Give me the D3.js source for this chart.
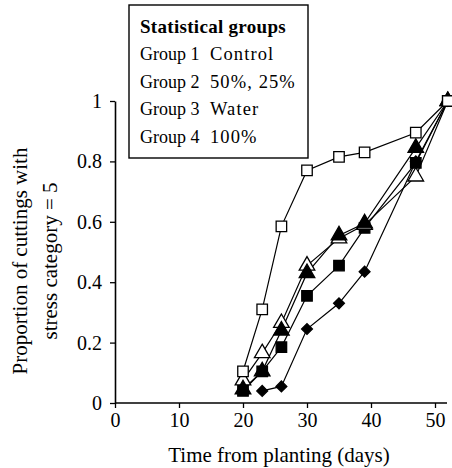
<!DOCTYPE html>
<html>
<head>
<meta charset="utf-8">
<script src="https://cdn.jsdelivr.net/npm/d3@7"></script>
<style>
  body { margin: 0; background: #fff; }
  svg { display: block; font-family: "Liberation Serif", "DejaVu Serif", serif; }
</style>
</head>
<body>
<svg id="chart" width="452" height="468"></svg>
<script>
// days after planting
var days = [20, 23, 26, 30, 35, 39, 47, 52];

// proportion of cuttings at stress category 5, one list per treatment
var control   = [0.105, 0.31, 0.585, 0.77, 0.815, 0.83, 0.895, 1.0];
var triOpen   = [0.075, 0.165, 0.265, 0.455, 0.545, 0.59, 0.75, 1.0];
var triFilled = [0.045, 0.105, 0.24, 0.43, 0.555, 0.595, 0.845, 1.0];
var sqFilled  = [0.04, 0.105, 0.185, 0.355, 0.455, 0.58, 0.795, 1.0];
var diamond   = [null, 0.04, 0.055, 0.245, 0.33, 0.435, 0.80, 1.0];

var xTicks = [0, 10, 20, 30, 40, 50];
var yTicks = [0, 0.2, 0.4, 0.6, 0.8, 1];

var legendTitle = "Statistical groups";
var legendGroups = ["Group 1", "Group 2", "Group 3", "Group 4"];
var legendTreat = ["Control", "50%, 25%", "Water", "100%"];

var series = [
  {name: "diamond", values: diamond, shape: d3.symbolDiamond2, fill: "#000", size: 75},
  {name: "sqFilled", values: sqFilled, shape: d3.symbolSquare, fill: "#000", size: 110},
  {name: "triOpen", values: triOpen, shape: d3.symbolTriangle, fill: "#fff", size: 105},
  {name: "triFilled", values: triFilled, shape: d3.symbolTriangle, fill: "#000", size: 105},
  {name: "control", values: control, shape: d3.symbolSquare, fill: "#fff", size: 110}
];

var svg = d3.select("#chart");

var x = d3.scaleLinear().domain([0, 50]).range([115, 435]);
var y = d3.scaleLinear().domain([0, 1]).range([403, 101]);

// axes
var xAxis = svg.append("g").attr("transform", "translate(0,403)")
  .call(d3.axisBottom(x).tickValues(xTicks).tickSize(5).tickSizeOuter(0).tickPadding(5));
xAxis.select(".domain").attr("d", "M115,0H447");
var yAxis = svg.append("g").attr("transform", "translate(115,0)")
  .call(d3.axisLeft(y).tickValues(yTicks).tickSize(5).tickSizeOuter(0).tickPadding(8)
    .tickFormat(function(d){ return d === 0 || d === 1 ? d3.format("d")(d) : d3.format(".1f")(d); }));
svg.selectAll(".domain").attr("stroke", "#000").attr("stroke-width", 1.6);
svg.selectAll(".tick line").attr("stroke", "#000").attr("stroke-width", 1.3);
svg.selectAll(".tick text").attr("font-size", 20).attr("font-family", "Liberation Serif").attr("fill", "#000");

// axis titles
svg.append("text")
  .attr("x", 279).attr("y", 462)
  .attr("text-anchor", "middle")
  .attr("font-size", 21)
  .text("Time from planting (days)");

var yt = svg.append("text")
  .attr("transform", "translate(0,261) rotate(-90)")
  .attr("text-anchor", "middle")
  .attr("font-size", 21);
yt.append("tspan").attr("x", 0).attr("y", 27).text("Proportion of cuttings with");
yt.append("tspan").attr("x", 0).attr("y", 57).text("stress category = 5");

// lines + markers
var line = d3.line()
  .defined(function(d){ return d[1] != null; })
  .x(function(d){ return x(d[0]); })
  .y(function(d){ return y(d[1]); });

series.forEach(function(s) {
  var pts = days.map(function(d, i){ return [d, s.values[i]]; });
  svg.append("path")
    .datum(pts)
    .attr("d", line)
    .attr("fill", "none")
    .attr("stroke", "#000")
    .attr("stroke-width", 1.2);
});

series.forEach(function(s) {
  var pts = days.map(function(d, i){ return [d, s.values[i]]; })
    .filter(function(p){ return p[1] != null; });
  svg.selectAll(null)
    .data(pts)
    .enter().append("path")
    .attr("transform", function(p){ return "translate(" + x(p[0]) + "," + y(p[1]) + ")"; })
    .attr("d", d3.symbol().type(s.shape).size(s.size))
    .attr("fill", s.fill)
    .attr("stroke", "#000")
    .attr("stroke-width", 1.3);
});

// legend box
var lg = svg.append("g");
lg.append("rect")
  .attr("x", 129).attr("y", 5).attr("width", 179).attr("height", 153)
  .attr("fill", "#fff").attr("stroke", "#000").attr("stroke-width", 1.4);
lg.append("text")
  .attr("x", 140).attr("y", 33)
  .attr("font-size", 19).attr("font-weight", "bold")
  .attr("letter-spacing", 0.3)
  .text(legendTitle);
legendGroups.forEach(function(g, i) {
  var by = 60 + i * 27.7;
  lg.append("text").attr("x", 140).attr("y", by).attr("font-size", 18).text(g);
  lg.append("text").attr("x", 210).attr("y", by).attr("font-size", 18.5)
    .attr("letter-spacing", 1.1).text(legendTreat[i]);
});
</script>
</body>
</html>
